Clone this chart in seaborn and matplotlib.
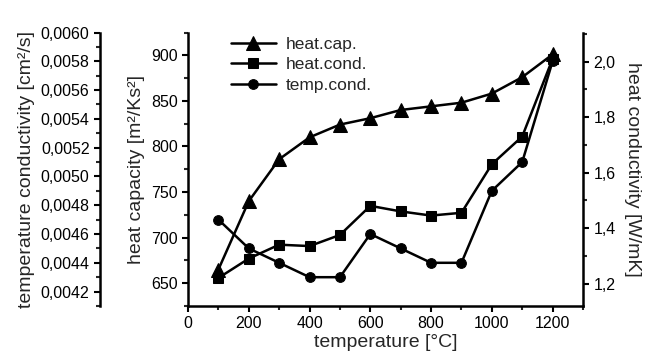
import numpy as np
import pandas as pd
import matplotlib
matplotlib.use("Agg")
import matplotlib.pyplot as plt
from matplotlib.ticker import MultipleLocator, FuncFormatter
import seaborn as sns

temperature = [100, 200, 300, 400, 500, 600, 700, 800, 900, 1000, 1100, 1200]
heat_cap = [665, 740, 786, 810, 824, 831, 840, 844, 848, 858, 876, 901]
heat_cond = [1.22, 1.29, 1.34, 1.335, 1.375, 1.48, 1.46, 1.445, 1.455, 1.63, 1.73, 2.01]
temp_cond = [0.0047, 0.0045, 0.0044, 0.0043, 0.0043, 0.0046, 0.0045, 0.0044, 0.0044, 0.0049, 0.0051, 0.0058]
series_names = ["heat.cap.", "heat.cond.", "temp.cond."]

sns.set_style("ticks")
plt.rcParams["font.family"] = ["Liberation Sans", "DejaVu Sans"]
plt.rcParams["xtick.direction"] = "out"
plt.rcParams["ytick.direction"] = "out"

fig = plt.figure(figsize=(6.54, 3.58), dpi=100)
ax = fig.add_axes([0.2875, 0.1453, 0.6039, 0.7639])
ax2 = ax.twinx()
ax3 = ax.twinx()

df = pd.DataFrame({"T": temperature, "cap": heat_cap, "cond": heat_cond, "tc": temp_cond})
lw = 1.8
sns.lineplot(data=df, x="T", y="cap", ax=ax, color="black", lw=lw, marker="^", markersize=9.5,
             markeredgecolor="black", label=series_names[0], legend=False)
sns.lineplot(data=df, x="T", y="cond", ax=ax2, color="black", lw=lw, marker="s", markersize=7,
             markeredgecolor="black", label=series_names[1], legend=False)
sns.lineplot(data=df, x="T", y="tc", ax=ax3, color="black", lw=lw, marker="o", markersize=7,
             markeredgecolor="black", label=series_names[2], legend=False)

comma = lambda fmt: FuncFormatter(lambda v, p: (fmt % v).replace(".", ","))

ax.set_xlim(0, 1300)
ax.set_ylim(625, 925)
ax.xaxis.set_major_locator(MultipleLocator(200))
ax.xaxis.set_minor_locator(MultipleLocator(100))
ax.yaxis.set_major_locator(MultipleLocator(50))
ax.yaxis.set_minor_locator(MultipleLocator(25))

ax2.set_ylim(1.119, 2.105)
ax2.yaxis.set_major_locator(MultipleLocator(0.2))
ax2.yaxis.set_minor_locator(MultipleLocator(0.1))
ax2.yaxis.set_major_formatter(comma("%.1f"))

ax3.set_ylim(0.0041, 0.0060)
ax3.yaxis.set_major_locator(MultipleLocator(0.0002))
ax3.yaxis.set_minor_locator(MultipleLocator(0.0001))
ax3.yaxis.set_major_formatter(comma("%.4f"))
ax3.spines["left"].set_position(("axes", -0.223))
ax3.spines["left"].set_visible(True)
ax3.yaxis.set_label_position("left")
ax3.yaxis.set_ticks_position("left")
for s in ["top", "right", "bottom"]:
    ax3.spines[s].set_visible(False)

for a in (ax, ax2):
    a.spines["top"].set_visible(False)
ax.spines["right"].set_visible(False)
ax2.spines["left"].set_visible(False)
ax2.spines["bottom"].set_visible(False)
ax2.spines["right"].set_visible(True)

for a in (ax, ax2, ax3):
    for s in a.spines.values():
        s.set_linewidth(1.8)
        s.set_color("black")
    a.tick_params(which="major", length=4, width=1.5, labelsize=11.5, colors="black")
    a.tick_params(which="minor", length=3, width=1.5)

ax.set_xlabel("temperature [°C]", fontsize=14, labelpad=2)
ax.set_ylabel("heat capacity [m²/Ks²]", fontsize=14, labelpad=4)
ax2.set_ylabel("heat conductivity [W/mK]", fontsize=14, rotation=270, labelpad=18)
ax3.set_ylabel("temperature conductivity [cm²/s]", fontsize=14, labelpad=4)

handles = []
for a in (ax, ax2, ax3):
    h, l = a.get_legend_handles_labels()
    handles += h
leg = ax3.legend(handles, series_names, loc="upper left", bbox_to_anchor=(0.09, 1.01),
                 frameon=False, fontsize=12.5, handlelength=2.6, handletextpad=0.6,
                 labelspacing=0.3, borderaxespad=0)

fig.savefig("out.png", dpi=100)
